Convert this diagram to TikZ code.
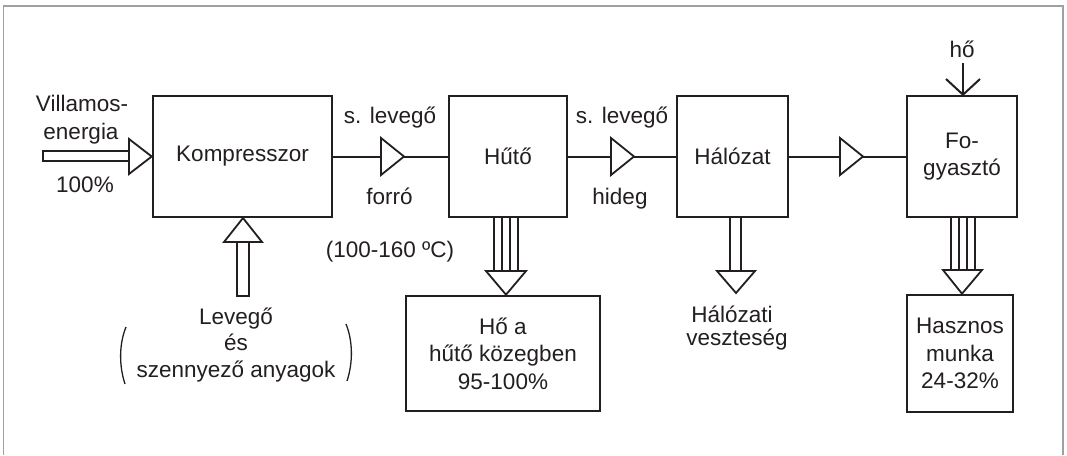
\documentclass[tikz,border=0pt]{standalone}
\usepackage{fontspec}
\setmainfont{Liberation Sans}
\definecolor{ink}{HTML}{231F20}
\definecolor{framec}{HTML}{A0A0A0}
\tikzset{
  blk/.style={draw=ink, line width=2.6pt, inner sep=0pt, align=center, text=ink,
              font=\fontsize{22.5}{27.5}\selectfont},
  lbl/.style={anchor=base, inner sep=0pt, text=ink, font=\fontsize{22.5}{27}\selectfont},
  conn/.style={draw=ink, line width=2pt},
  hollow/.style={draw=ink, line width=1.8pt, fill=white, line join=miter},
  shaft/.style={draw=ink, line width=1.8pt},
  flowtri/.pic={\draw[hollow] (0,-18.5) -- (23,0) -- (0,18.5) -- cycle;}
}
\begin{document}
\begin{tikzpicture}[x=1pt,y=-1pt]
\useasboundingbox[fill=white] (0,0) rectangle (1067,455);
% frame
\draw[framec, line width=1.6pt] (3.5,455) -- (3.5,6) -- (1063,6) -- (1063,455);

% main blocks
\node[blk, minimum width=179, minimum height=121] (komp) at (242.5,156.5) {Kompresszor};
\node[blk, minimum width=118, minimum height=121] (hut) at (508,156.5) {Hűtő};
\node[blk, minimum width=111, minimum height=121] (hal) at (732.5,156.5) {Hálózat};
\node[blk, minimum width=110, minimum height=121] (fog) at (962,156.5) {Fo-\\gyasztó};
\node[blk, minimum width=194, minimum height=115] (ho) at (503,353.5) {Hő a\\hűtő közegben\\95-100\%};
\node[blk, minimum width=106, minimum height=117] (hasz) at (960,353.5) {Hasznos\\munka\\24-32\%};

% connectors with flow triangles
\draw[conn] (komp.east) -- (hut.west);
\draw[conn] (hut.east) -- (hal.west);
\draw[conn] (hal.east) -- (fog.west);
\pic at (381,156.5) {flowtri};
\pic at (611,156.5) {flowtri};
\pic at (840,156.5) {flowtri};

% electric energy input
\coordinate (vtip) at (komp.west);
\draw[shaft] (43,151) rectangle (129,161);
\draw[hollow] (129,139) -- (vtip) -- (129,174) -- cycle;

% air input from below
\coordinate (atip) at (243,218);
\draw[shaft] (237,242) rectangle (249,296);
\draw[hollow] (224,242) -- (atip) -- (262,242) -- cycle;

% heat to cooling medium (Hűtő -> Hő a)
\foreach \x in {494,502,510,518} \draw[shaft] (\x,218) -- (\x,271);
\draw[hollow] (486,271) -- (526,271) -- (ho.north -| 506,0) -- cycle;

% network loss
\draw[shaft] (730,218) -- (730,271);
\draw[shaft] (741,218) -- (741,271);
\draw[hollow] (717,271) -- (755,271) -- (736,293) -- cycle;

% useful work
\foreach \x in {951,959,967,975} \draw[shaft] (\x,218) -- (\x,270);
\draw[hollow] (943,270) -- (982,270) -- (hasz.north -| 962,0) -- cycle;

% heat input on top of consumer
\coordinate (hotop) at (963,63);
\draw[conn] (hotop) -- (fog.north -| hotop);
\draw[conn, line join=miter] (946,79) -- (fog.north -| hotop) -- (980,79);

% labels
\node[lbl] (l1) at (82,111) {Villamos-};
\node[lbl] (l2) at (81,139) {energia};
\node[lbl] (l3) at (85,192) {100\%};
\node[lbl] (l4) at (390,123) {s. levegő};
\node[lbl] (l5) at (389.5,204) {forró};
\node[lbl] (l6) at (390,257) {(100-160 ºC)};
\node[lbl] (l7) at (622,123) {s. levegő};
\node[lbl] (l8) at (620,204) {hideg};
\node[lbl] (l9) at (962,57) {hő};
\node[lbl] (l10) at (236,324) {Levegő};
\node[lbl] (l11) at (236,350) {és};
\node[lbl] (l12) at (236,377) {szennyező anyagok};
\node[lbl] (l13) at (732,322) {Hálózati};
\node[lbl] (l14) at (737,345) {veszteség};

% parentheses
\draw[ink, line width=1.3pt] (126,327) .. controls (119,344) and (119,366) .. (125,384);
\draw[ink, line width=1.3pt] (346,324) .. controls (353,341) and (353,363) .. (347,381);
\end{tikzpicture}
\end{document}
